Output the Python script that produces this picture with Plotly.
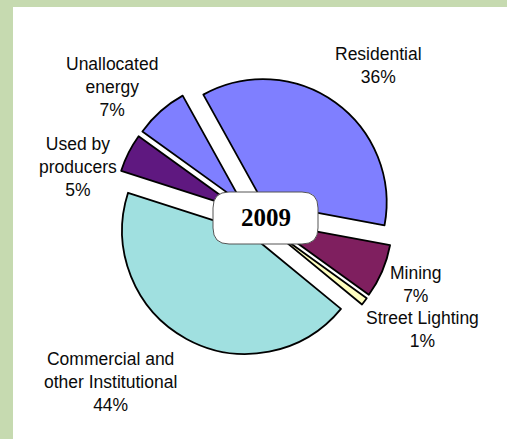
import plotly.graph_objects as go

# ---- data ----
categories = ["Residential", "Mining", "Street Lighting",
              "Commercial and other Institutional", "Used by producers",
              "Unallocated energy"]
label_lines = ["Residential", "Mining", "Street Lighting",
               "Commercial and<br>other Institutional", "Used by<br>producers",
               "Unallocated<br>energy"]
shares = [36, 7, 1, 44, 5, 7]
year_label = "2009"

colors = ["#7f7fff", "#7f1f5f", "#ffffc0", "#a0e0e0", "#5f1880", "#7f7fff"]

W, H = 507, 439

def px(x):
    return x / W

def py(y):
    return 1 - y / H

# pie geometry (pixels)
cx, cy, box = 253.5, 216.0, 280.0
pull = 0.134

fig = go.Figure(go.Pie(
    labels=categories,
    values=shares,
    sort=False,
    direction="clockwise",
    rotation=-29,
    pull=[pull] * len(shares),
    marker=dict(colors=colors, line=dict(color="#000000", width=1.8)),
    textinfo="none",
    hoverinfo="label+percent",
    showlegend=False,
    domain=dict(x=[px(cx - box / 2), px(cx + box / 2)],
                y=[py(cy + box / 2), py(cy - box / 2)]),
))

# label positions (pixel centers)
label_pos = [(378, 66), (416, 284), (422, 329), (110, 382), (78, 167), (112, 87)]
annotations = []
for lab, val, (lx, ly) in zip(label_lines, shares, label_pos):
    annotations.append(dict(
        x=px(lx), y=py(ly), xref="paper", yref="paper",
        text=f"{lab}<br>{val}%", showarrow=False,
        xanchor="center", yanchor="middle", align="center",
        font=dict(family="Liberation Sans, Arial, sans-serif", size=17.5, color="#0a0a0a"),
    ))

annotations.append(dict(
    x=px(265.5), y=py(217.5), xref="paper", yref="paper",
    text=f"<b>{year_label}</b>", showarrow=False,
    xanchor="center", yanchor="middle",
    font=dict(family="Liberation Serif, Times New Roman, serif", size=25, color="#000000"),
))

# rounded box for the year label
x0, y0, x1, y1, rr = 213, 192, 318, 244, 16
def P(x, y):
    return f"{px(x):.5f},{py(y):.5f}"
path = (f"M {P(x0 + rr, y0)} L {P(x1 - rr, y0)} Q {P(x1, y0)} {P(x1, y0 + rr)} "
        f"L {P(x1, y1 - rr)} Q {P(x1, y1)} {P(x1 - rr, y1)} "
        f"L {P(x0 + rr, y1)} Q {P(x0, y1)} {P(x0, y1 - rr)} "
        f"L {P(x0, y0 + rr)} Q {P(x0, y0)} {P(x0 + rr, y0)} Z")

shapes = [
    dict(type="rect", xref="paper", yref="paper", x0=px(13), x1=1.01, y0=-0.01, y1=py(7),
         fillcolor="#ffffff", line=dict(width=0), layer="below"),
    dict(type="path", xref="paper", yref="paper", path=path,
         fillcolor="#ffffff", line=dict(color="#555555", width=1), layer="above"),
]

fig.update_layout(
    width=W, height=H,
    margin=dict(l=0, r=0, t=0, b=0),
    paper_bgcolor="#c6dab0",
    plot_bgcolor="#ffffff",
    annotations=annotations,
    shapes=shapes,
)

fig.write_html("out.html")
